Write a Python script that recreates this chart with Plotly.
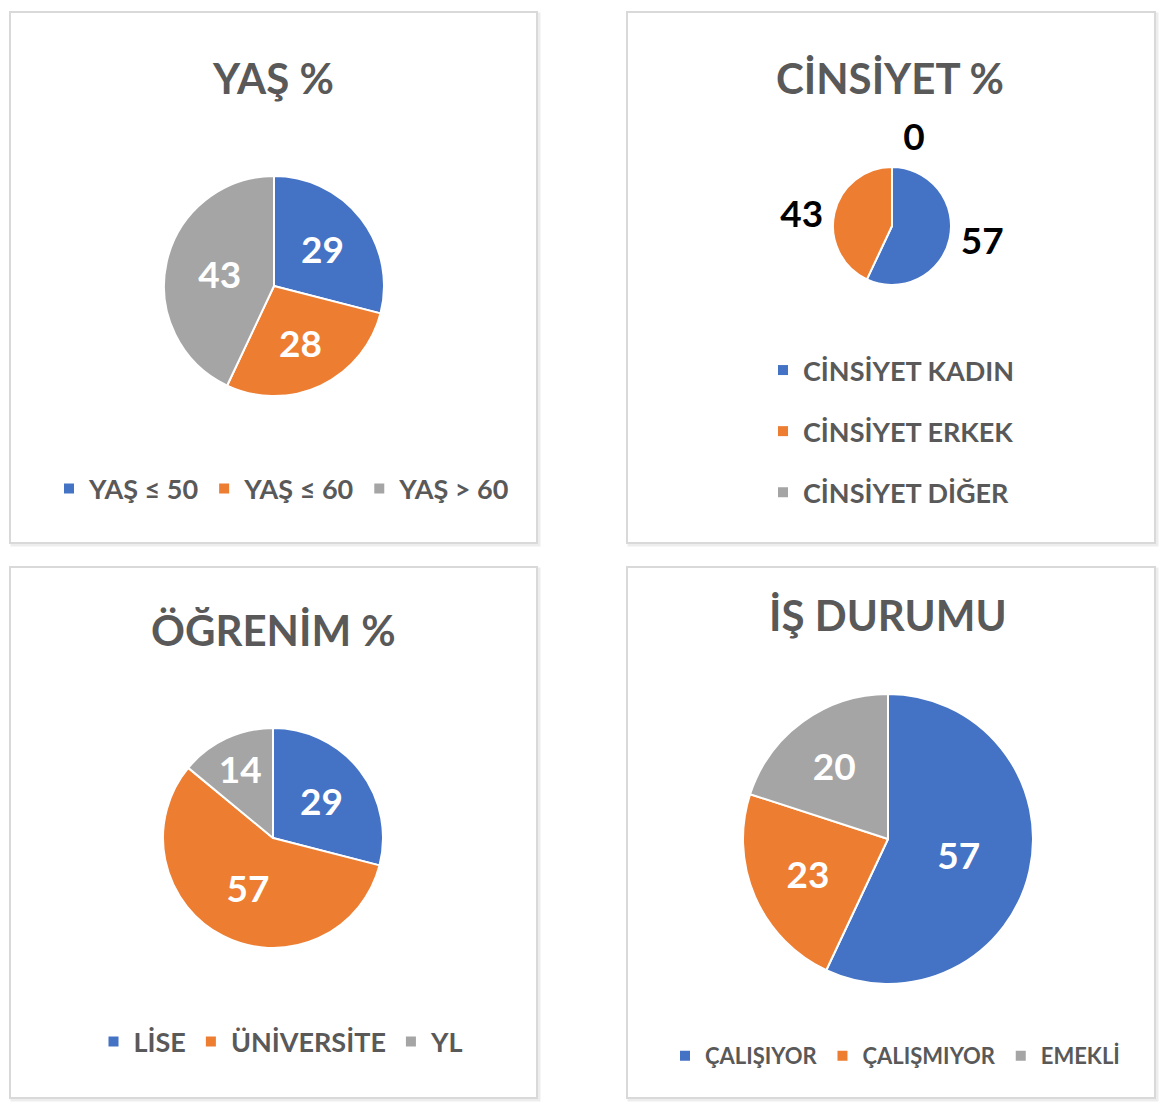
import plotly.graph_objects as go

W, H = 1170, 1106
OFF = 8  # page body margin

# ---------------- data ----------------
yas_labels = ["YAŞ ≤ 50", "YAŞ ≤ 60", "YAŞ > 60"]
yas_values = [29, 28, 43]

cins_labels = ["CİNSİYET KADIN", "CİNSİYET ERKEK", "CİNSİYET DİĞER"]
cins_values = [57, 43, 0]

ogr_labels = ["LİSE", "ÜNİVERSİTE", "YL"]
ogr_values = [29, 57, 14]

is_labels = ["ÇALIŞIYOR", "ÇALIŞMIYOR", "EMEKLİ"]
is_values = [57, 23, 20]

titles = ["YAŞ %", "CİNSİYET %", "ÖĞRENİM %", "İŞ DURUMU"]
COLORS = ["#4472C4", "#ED7D31", "#A5A5A5"]
TXT = "#595959"
FONT = "Lato"


def px(x):
    return (x - OFF) / W


def py(y):
    return 1 - (y - OFF) / H


def dom(cx, cy, r):
    return dict(x=[px(cx - r), px(cx + r)], y=[py(cy + r), py(cy - r)])


def pie(labels, values, cx, cy, r, legend, inside=True, showlegend=True, pull=0):
    return go.Pie(
        labels=labels, values=values, sort=False, direction="clockwise", rotation=0,
        domain=dom(cx, cy, r * (1 + (max(pull) if pull else 0))),
        pull=pull,
        marker=dict(colors=COLORS, line=dict(color="white", width=2)),
        textinfo="value",
        textposition="inside" if inside else "outside",
        insidetextorientation="horizontal",
        textfont=dict(family=FONT, size=37, color="white" if inside else "black",
                      weight="bold"),
        showlegend=showlegend, legend=legend, hoverinfo="label+value",
    )


fig = go.Figure()
fig.add_trace(pie(yas_labels, yas_values, 274, 286, 110, "legend"))
fig.add_trace(pie(cins_labels, cins_values, 892, 226, 59, "legend2", inside=False,
                  showlegend=False, pull=[0, 0, 0.16]))
fig.add_trace(pie(ogr_labels, ogr_values, 273, 838, 110, "legend3"))
fig.add_trace(pie(is_labels, is_values, 888, 839, 145, "legend4"))

# legend entries for the gender chart (spaced vertically like the original)
for lab, col in zip(cins_labels, COLORS):
    fig.add_trace(go.Scatter(
        x=[None], y=[None], mode="markers", name=lab, legend="legend2",
        legendgroup=lab, marker=dict(symbol="square", size=10, color=col),
        showlegend=True, hoverinfo="skip",
    ))

# panel frames
panels = [(10, 12, 537, 543), (627, 12, 1155, 543), (10, 567, 537, 1098), (627, 567, 1155, 1098)]
shapes = []
for x0, y0, x1, y1 in panels:
    shapes.append(dict(type="rect", xref="paper", yref="paper",
                       x0=px(x0 + 2), x1=px(x1 + 2), y0=py(y1 + 2), y1=py(y0 + 2),
                       line=dict(color="#EDEDED", width=3), fillcolor="#EDEDED", layer="below"))
    shapes.append(dict(type="rect", xref="paper", yref="paper",
                       x0=px(x0), x1=px(x1), y0=py(y1), y1=py(y0),
                       line=dict(color="#D9D9D9", width=2), fillcolor="white", layer="below"))

title_pos = [(273, 78), (890, 78), (273, 630), (888, 615)]
annotations = []
for t, (x, y) in zip(titles, title_pos):
    annotations.append(dict(text=t, x=px(x), y=py(y), xref="paper", yref="paper",
                            showarrow=False, xanchor="center", yanchor="middle",
                            font=dict(family=FONT, size=42, color=TXT, weight="bold")))

leg_font = dict(family=FONT, size=27, color=TXT, weight="bold")
fig.update_layout(
    width=W, height=H, margin=dict(l=0, r=0, t=0, b=0),
    paper_bgcolor="white", plot_bgcolor="white",
    xaxis=dict(visible=False), yaxis=dict(visible=False),
    shapes=shapes, annotations=annotations,
    legend=dict(orientation="h", x=px(282), y=py(489), xanchor="center", yanchor="middle",
                font=leg_font, bgcolor="rgba(0,0,0,0)"),
    legend2=dict(orientation="v", x=px(763), y=py(346), xanchor="left", yanchor="top",
                 font=leg_font, tracegroupgap=23, bgcolor="rgba(0,0,0,0)"),
    legend3=dict(orientation="h", x=px(281), y=py(1042), xanchor="center", yanchor="middle",
                 font=leg_font, bgcolor="rgba(0,0,0,0)"),
    legend4=dict(orientation="h", x=px(895), y=py(1056), xanchor="center", yanchor="middle",
                 font=dict(family=FONT, size=22, color=TXT, weight="bold"),
                 bgcolor="rgba(0,0,0,0)"),
)

fig.write_html("out.html")
